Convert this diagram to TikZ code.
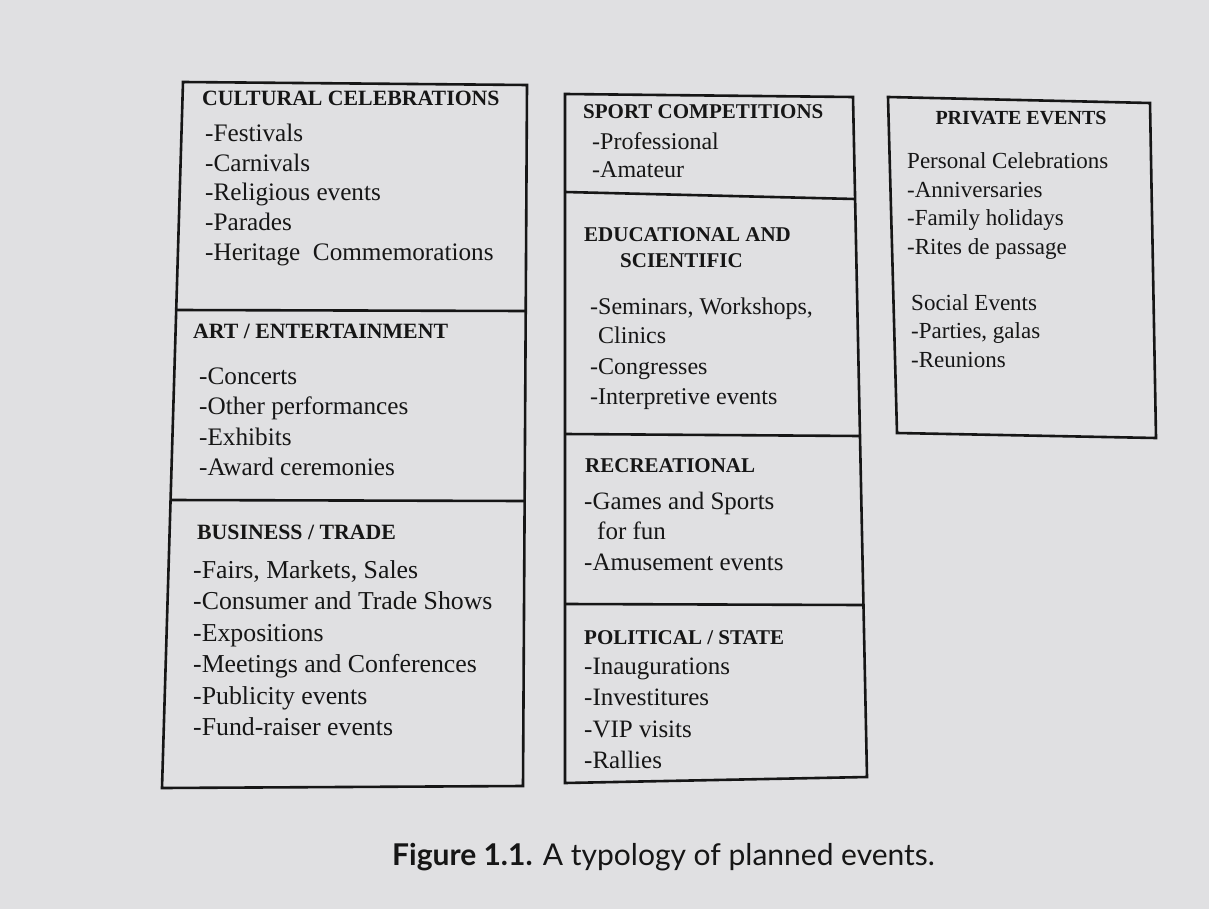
\documentclass[tikz,border=0pt]{standalone}
\usepackage{fontspec}
\setmainfont{Liberation Serif}
\newfontfamily\capfont{Lato}
\definecolor{paper}{RGB}{224,224,226}
\definecolor{ink}{RGB}{22,22,22}
\tikzset{
  hd/.style={anchor=base west, inner sep=0pt, text=ink, font=\fontsize{21}{25}\selectfont\bfseries},
  lhd/.style={hd, font=\fontsize{21.8}{26}\selectfont\bfseries},
  it/.style={anchor=base west, inner sep=0pt, text=ink, font=\fontsize{24}{29}\selectfont},
  lit/.style={it, font=\fontsize{25.2}{30}\selectfont},
  bit/.style={it, font=\fontsize{25.8}{31}\selectfont},
  mit/.style={it, font=\fontsize{25}{30}\selectfont},
  phd/.style={anchor=base, inner sep=0pt, text=ink, font=\fontsize{20}{24}\selectfont\bfseries},
  pit/.style={anchor=base west, inner sep=0pt, text=ink, font=\fontsize{23}{28}\selectfont},
  box/.style={draw=ink, line width=2.6pt, line join=miter},
  divider/.style={draw=ink, line width=2.6pt}
}
\begin{document}
\begin{tikzpicture}[x=1pt,y=-1pt]
\useasboundingbox (0,0) rectangle (1209,909);
\fill[paper] (0,0) rectangle (1209,909);
% ---------- left column ----------
\coordinate (Ltl) at (183,82); \coordinate (Ltr) at (527,85);
\coordinate (Lbr) at (523,786); \coordinate (Lbl) at (162,788);
\coordinate (L1l) at (176,310); \coordinate (L1r) at (526,311);
\coordinate (L2l) at (170,500); \coordinate (L2r) at (525,501);
\draw[box] (Ltl) -- (Ltr) -- (Lbr) -- (Lbl) -- cycle;
\draw[divider] (L1l) -- (L1r);
\draw[divider] (L2l) -- (L2r);
\node[lhd] (cultH) at (202,106) {CULTURAL CELEBRATIONS};
\foreach \t [count=\i] in {-Festivals,-Carnivals,-Religious events,-Parades,-Heritage\ \ Commemorations}
  \node[lit] (cult\i) at (205,142+29.5*\i-29.5) {\t};
\node[lhd] (artH) at (193,338) {ART / ENTERTAINMENT};
\foreach \t [count=\i] in {-Concerts,-Other performances,-Exhibits,-Award ceremonies}
  \node[lit] (art\i) at (199,384+30.5*\i-30.5) {\t};
\node[lhd] (busH) at (197,539) {BUSINESS / TRADE};
\foreach \t [count=\i] in {{-Fairs, Markets, Sales},-Consumer and Trade Shows,-Expositions,-Meetings and Conferences,-Publicity events,-Fund-raiser events}
  \node[bit] (bus\i) at (193,578+31.5*\i-31.5) {\t};
% ---------- middle column ----------
\coordinate (Mtl) at (565,94); \coordinate (Mtr) at (853,97);
\coordinate (Mbr) at (867,777); \coordinate (Mbl) at (565,783);
\coordinate (M1l) at (565,192); \coordinate (M1r) at (855,199);
\coordinate (M2l) at (565,434); \coordinate (M2r) at (860,436);
\coordinate (M3l) at (565,604); \coordinate (M3r) at (863,605);
\draw[box] (Mtl) -- (Mtr) -- (Mbr) -- (Mbl) -- cycle;
\draw[divider] (M1l) -- (M1r);
\draw[divider] (M2l) -- (M2r);
\draw[divider] (M3l) -- (M3r);
\node[hd] (sportH) at (583,119) {SPORT COMPETITIONS};
\node[it] (sport1) at (592,150) {-Professional};
\node[it] (sport2) at (592,178) {-Amateur};
\node[hd] (eduH1) at (584,242) {EDUCATIONAL AND};
\node[hd] (eduH2) at (620,267) {SCIENTIFIC};
\node[it] (edu1) at (590,314) {-Seminars, Workshops,};
\node[it] (edu2) at (598,343) {Clinics};
\node[it] (edu3) at (590,374) {-Congresses};
\node[it] (edu4) at (590,404) {-Interpretive events};
\node[hd] (recH) at (585,472) {RECREATIONAL};
\node[mit] (rec1) at (584,509) {-Games and Sports};
\node[mit] (rec2) at (597,539) {for fun};
\node[mit] (rec3) at (584,570) {-Amusement events};
\node[hd] (polH) at (584,644) {POLITICAL / STATE};
\foreach \t [count=\i] in {-Inaugurations,-Investitures,-VIP visits,-Rallies}
  \node[mit] (pol\i) at (584,674+31.5*\i-31.5) {\t};
% ---------- private events ----------
\coordinate (Ptl) at (888,97); \coordinate (Ptr) at (1150,103);
\coordinate (Pbr) at (1156,438); \coordinate (Pbl) at (897,433);
\draw[box] (Ptl) -- (Ptr) -- (Pbr) -- (Pbl) -- cycle;
\node[phd] (privH) at (1021,125) {PRIVATE EVENTS};
\foreach \t [count=\i] in {Personal Celebrations,-Anniversaries,-Family holidays,-Rites de passage}
  \node[pit] (pers\i) at (907,169+28.5*\i-28.5) {\t};
\foreach \t [count=\i] in {Social Events,{-Parties, galas},-Reunions}
  \node[pit] (soc\i) at (911,310+28.5*\i-28.5) {\t};
% ---------- caption ----------
\node[anchor=base west, inner sep=0pt, text=ink, font=\capfont\fontsize{30}{35}\selectfont] (caption) at (392,865) {\textbf{Figure 1.1.} A typology of planned events.};
\end{tikzpicture}
\end{document}
